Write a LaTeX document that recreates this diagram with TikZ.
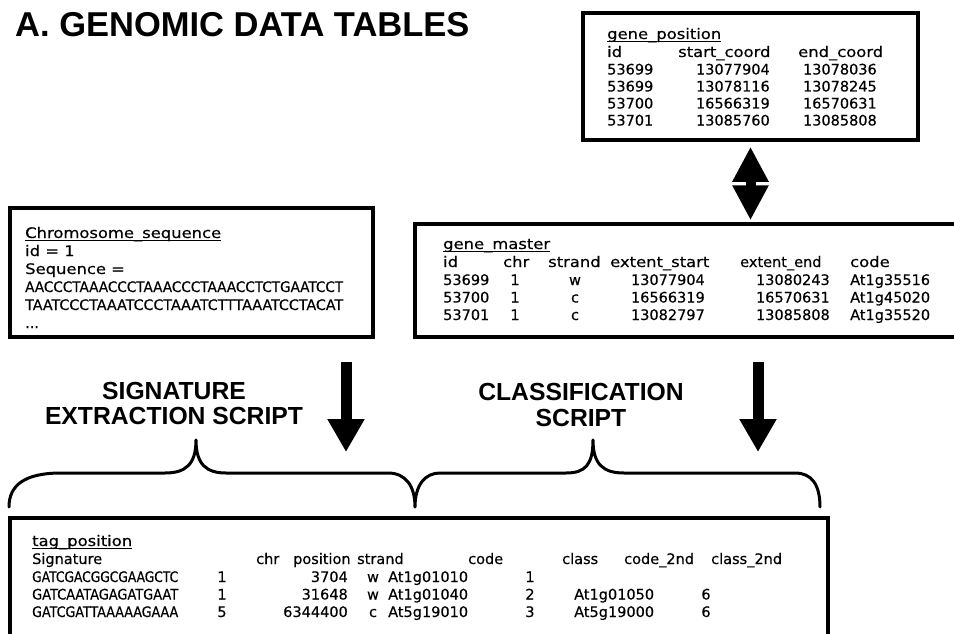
\documentclass[tikz,border=0pt]{standalone}
\usepackage{fontspec}
\usepackage{graphicx}
\setmainfont{Liberation Sans}
\newfontfamily\tabfont[FakeBold=0.35]{DejaVu Sans}
\usetikzlibrary{arrows.meta,calc}
\newcommand\myul[1]{\setbox0\hbox{#1}\rlap{\rule[-3pt]{\wd0}{1pt}}\box0}
\newcommand\hw[1]{\scalebox{1.13}[1]{#1}}
\begin{document}
\begin{tikzpicture}[x=1pt,y=-1pt,
  tb/.style={draw, line width=3.5pt, inner sep=0pt},
  tt/.style={inner sep=0pt, font=\tabfont\fontsize{14.5}{17}\selectfont},
  tl/.style={tt, anchor=base west},
  tr/.style={tt, anchor=base east},
  tc/.style={tt, anchor=base},
  lab/.style={inner sep=0pt, anchor=base, font=\bfseries\fontsize{24.7}{26}\selectfont},
  bigarrow/.style={line width=11pt, -{Triangle[length=33pt,width=35pt]}},
  dblarrow/.style={line width=10pt, {Triangle[length=35pt,width=34pt]}-{Triangle[length=35pt,width=34pt]}},
  brace/.style={line width=3pt, line cap=round, line join=round}]
\fill[white] (0,0) rectangle (954,634);
\useasboundingbox (0,0) rectangle (954,634);
\clip (0,0) rectangle (954,634);

% title
\node[inner sep=0pt, anchor=base west, font=\bfseries\fontsize{34.5}{37}\selectfont] (title) at (15,37) {A. GENOMIC DATA TABLES};

% boxes
\node[tb, minimum width=335pt, minimum height=127pt] (gp) at (750.5,76.5) {};
\node[tb, minimum width=363pt, minimum height=129pt] (chrom) at (191.5,272.5) {};
\node[tb, minimum width=555pt, minimum height=113pt] (gm) at (692.5,280.5) {};
\node[tb, minimum width=818pt, minimum height=142pt] (tag) at (419,589) {};

% gene_position
\node[tl] (gpt) at (607,39) {\myul{\hw{gene\_position}}};
\node[tl] (gph1) at (607,57) {\hw{id}};
\node[tl] (gph2) at (678,57) {\hw{start\_coord}};
\node[tl] (gph3) at (798,57) {\hw{end\_coord}};
\foreach \y/\a/\b/\c [count=\i] in {74.5/53699/13077904/13078036, 91.5/53699/13078116/13078245, 108.5/53700/16566319/16570631, 125.5/53701/13085760/13085808}{
  \node[tl] (gpr\i a) at (607,\y) {\a};
  \node[tr] (gpr\i b) at (770,\y) {\b};
  \node[tr] (gpr\i c) at (877,\y) {\c};
}

% chromosome
\node[tl] (cs1) at (25,238) {\myul{\hw{Chromosome\_sequence}}};
\node[tl] (cs2) at (25,256) {\hw{id = 1}};
\node[tl] (cs3) at (25,274) {\hw{Sequence =}};
\node[tl] (cs4) at (25,292) {\resizebox{318pt}{\height}{AACCCTAAACCCTAAACCCTAAACCTCTGAATCCT}};
\node[tl] (cs5) at (25,310) {\resizebox{318pt}{\height}{TAATCCCTAAATCCCTAAATCTTTAAATCCTACAT}};
\node[tl] (cs6) at (25,328) {...};

% gene_master
\node[tl] (gmt) at (443,249) {\myul{\hw{gene\_master}}};
\node[tl] (gmh1) at (443,267) {\hw{id}};
\node[tl] (gmh2) at (503,267) {\hw{chr}};
\node[tl] (gmh3) at (548,267) {\hw{strand}};
\node[tl] (gmh4) at (610,267) {\hw{extent\_start}};
\node[tl] (gmh5) at (740,267) {extent\_end};
\node[tl] (gmh6) at (850,267) {\hw{code}};
\foreach \y/\a/\b/\c/\d/\e/\f [count=\i] in {285/53699/1/w/13077904/13080243/At1g35516, 302.5/53700/1/c/16566319/16570631/At1g45020, 320/53701/1/c/13082797/13085808/At1g35520}{
  \node[tl] (gmr\i a) at (443,\y) {\a};
  \node[tc] (gmr\i b) at (515,\y) {\b};
  \node[tc] (gmr\i c) at (575,\y) {\c};
  \node[tr] (gmr\i d) at (705,\y) {\d};
  \node[tr] (gmr\i e) at (830,\y) {\e};
  \node[tl] (gmr\i f) at (850,\y) {\f};
}

% tag_position
\node[tl] (tpt) at (32,546) {\myul{\hw{tag\_position}}};
\node[tl] (tph1) at (32,564) {Signature};
\node[tl] (tph2) at (256,564) {chr};
\node[tl] (tph3) at (293,564) {position};
\node[tl] (tph4) at (357,564) {strand};
\node[tl] (tph5) at (468,564) {code};
\node[tl] (tph6) at (562,564) {class};
\node[tl] (tph7) at (624,564) {code\_2nd};
\node[tl] (tph8) at (711,564) {class\_2nd};
\foreach \y/\a/\b/\c/\d/\e/\f/\g/\h [count=\i] in {582/GATCGACGGCGAAGCTC/1/3704/w/At1g01010/1/{}/{}, 599.5/GATCAATAGAGATGAAT/1/31648/w/At1g01040/2/At1g01050/6, 617/GATCGATTAAAAAGAAA/5/6344400/c/At5g19010/3/At5g19000/6}{
  \node[tl] (tpr\i a) at (32,\y) {\resizebox{146pt}{\height}{\a}};
  \node[tc] (tpr\i b) at (222,\y) {\b};
  \node[tr] (tpr\i c) at (348,\y) {\c};
  \node[tc] (tpr\i d) at (373,\y) {\d};
  \node[tl] (tpr\i e) at (388,\y) {\e};
  \node[tc] (tpr\i f) at (530,\y) {\f};
  \node[tl] (tpr\i g) at (574,\y) {\g};
  \node[tc] (tpr\i h) at (706,\y) {\h};
}

% double arrow between gene_position and gene_master
\coordinate (dA) at ($(gp.south)+(0,5)$);
\coordinate (dB) at ($(gp.south |- gm.north)+(0,-2)$);
\draw[dblarrow] (dA) -- (dB);

% down arrows
\coordinate (a1s) at (346,362);
\coordinate (a1e) at (346,452);
\coordinate (a2s) at (758,362);
\coordinate (a2e) at (758,452);
\draw[bigarrow] (a1s) -- (a1e);
\draw[bigarrow] (a2s) -- (a2e);

% braces
\draw[brace] (9,507) .. controls (9,485) and (25,473) .. (61,473) -- (165,473)
  .. controls (185,473) and (196,465) .. (196,440)
  .. controls (196,465) and (207,473) .. (226,473) -- (388,473)
  .. controls (405,473) and (415,485) .. (415,507)
  .. controls (415,485) and (425,473) .. (440,473) -- (566,473)
  .. controls (585,473) and (593,465) .. (593,440)
  .. controls (593,465) and (604,473) .. (624,473) -- (795,473)
  .. controls (812,473) and (820,485) .. (820,507);

% labels
\node[lab] (sig1) at (174,399) {SIGNATURE};
\node[lab] (sig2) at (174,424) {EXTRACTION SCRIPT};
\node[lab] (cls1) at (581,400) {CLASSIFICATION};
\node[lab] (cls2) at (581,426) {SCRIPT};
\end{tikzpicture}
\end{document}
